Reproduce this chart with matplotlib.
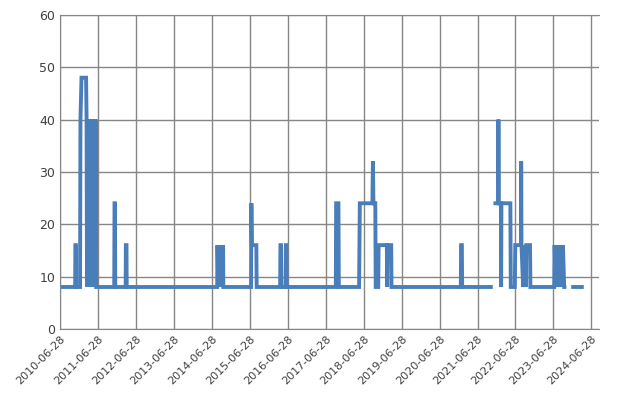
import matplotlib
matplotlib.use("Agg")
import matplotlib.pyplot as plt
import pandas as pd
import numpy as np

dates = ["2010-06-28","2010-11-20","2010-11-22","2010-11-27","2010-11-29","2011-01-06","2011-01-10","2011-01-20","2011-03-05","2011-03-10",
         "2011-03-14","2011-03-18","2011-03-22","2011-03-26","2011-03-30","2011-04-05","2011-04-10","2011-04-15","2011-04-20","2011-04-25",
         "2011-05-01","2011-05-08","2011-05-15","2011-05-22","2011-05-30","2011-06-06","2011-06-10",
         "2011-12-01","2011-12-04","2011-12-08","2011-12-11","2012-03-20","2012-03-22","2012-03-28","2012-03-30",
         "2014-08-18","2014-08-21","2014-08-28","2014-09-01","2014-09-08","2014-09-12","2014-09-20","2014-09-25","2014-10-05","2014-10-14","2014-10-16",
         "2015-07-10","2015-07-13","2015-07-18","2015-08-30","2015-09-02",
         "2016-04-15","2016-04-18","2016-04-23","2016-04-26","2016-06-06","2016-06-09","2016-06-13","2016-06-16",
         "2017-10-03","2017-10-06","2017-10-28","2017-11-01",
         "2018-05-15","2018-05-22","2018-09-20","2018-09-25","2018-09-30","2018-10-18","2018-10-22","2018-11-15","2018-11-19",
         "2019-02-06","2019-02-09","2019-02-13","2019-02-16","2019-03-20","2019-03-23",
         "2021-01-18","2021-01-21","2021-01-28","2021-01-31","2021-11-03","2021-11-10",
         "2021-12-17","2022-01-12","2022-01-15","2022-01-19","2022-02-08","2022-02-10","2022-02-13","2022-05-10","2022-05-14","2022-05-20","2022-06-22","2022-06-26",
         "2022-08-20","2022-08-22","2022-08-25","2022-09-10","2022-09-14","2022-09-20","2022-09-25","2022-10-05","2022-10-10","2022-11-15","2022-11-19",
         "2023-07-06","2023-07-10","2023-07-20","2023-07-25","2023-08-05","2023-08-10","2023-08-22","2023-08-27","2023-09-10","2023-09-15","2023-09-25","2023-09-28","2023-10-10","2023-10-12",
         "2023-11-07","2023-11-13","2023-11-20","2024-01-04","2024-03-28"]
values = [8,8,16,16,8,8,40,48,48,40,
          8,40,8,40,8,40,8,40,8,40,
          8,40,8,40,8,40,8,
          8,24,24,8,8,16,16,8,
          8,16,8,16,8,16,8,16,8,16,8,
          8,24,16,16,8,
          8,16,16,8,8,16,16,8,
          8,24,24,8,
          8,24,24,32,24,24,8,8,16,
          16,8,16,16,16,8,
          8,16,16,8,8,np.nan,
          24,24,40,24,24,8,24,24,8,8,8,16,
          16,32,16,8,16,8,16,8,16,16,8,
          8,16,8,16,8,16,8,16,8,16,8,16,8,8,
          np.nan,8,np.nan,8,8]

tick_labels = [f"{y}-06-28" for y in range(2010, 2025)]

fig = plt.figure(figsize=(6.26, 4.03), dpi=100)
ax = fig.add_axes([0.096, 0.184, 0.861, 0.779])
x = pd.to_datetime(dates)
ax.plot(x, values, color="#4a7ebb", lw=2.8, solid_joinstyle="miter")
ticks = pd.to_datetime(tick_labels)
ax.set_xticks(ticks)
ax.set_xticklabels(tick_labels, rotation=45, ha="right", rotation_mode="anchor", fontsize=8, color="#404040")
ax.set_xlim(pd.Timestamp("2010-06-28"), pd.Timestamp("2024-09-10"))
ax.set_ylim(0, 60)
ax.set_yticks(range(0, 61, 10))
ax.tick_params(axis="y", labelsize=9, colors="#404040", length=0)
ax.tick_params(axis="x", length=0)
ax.grid(True, color="#868686", lw=1)
for s in ax.spines.values():
    s.set_color("#868686")
ax.spines["right"].set_visible(False)
ax.set_axisbelow(True)
fig.savefig("out.png", dpi=100)
